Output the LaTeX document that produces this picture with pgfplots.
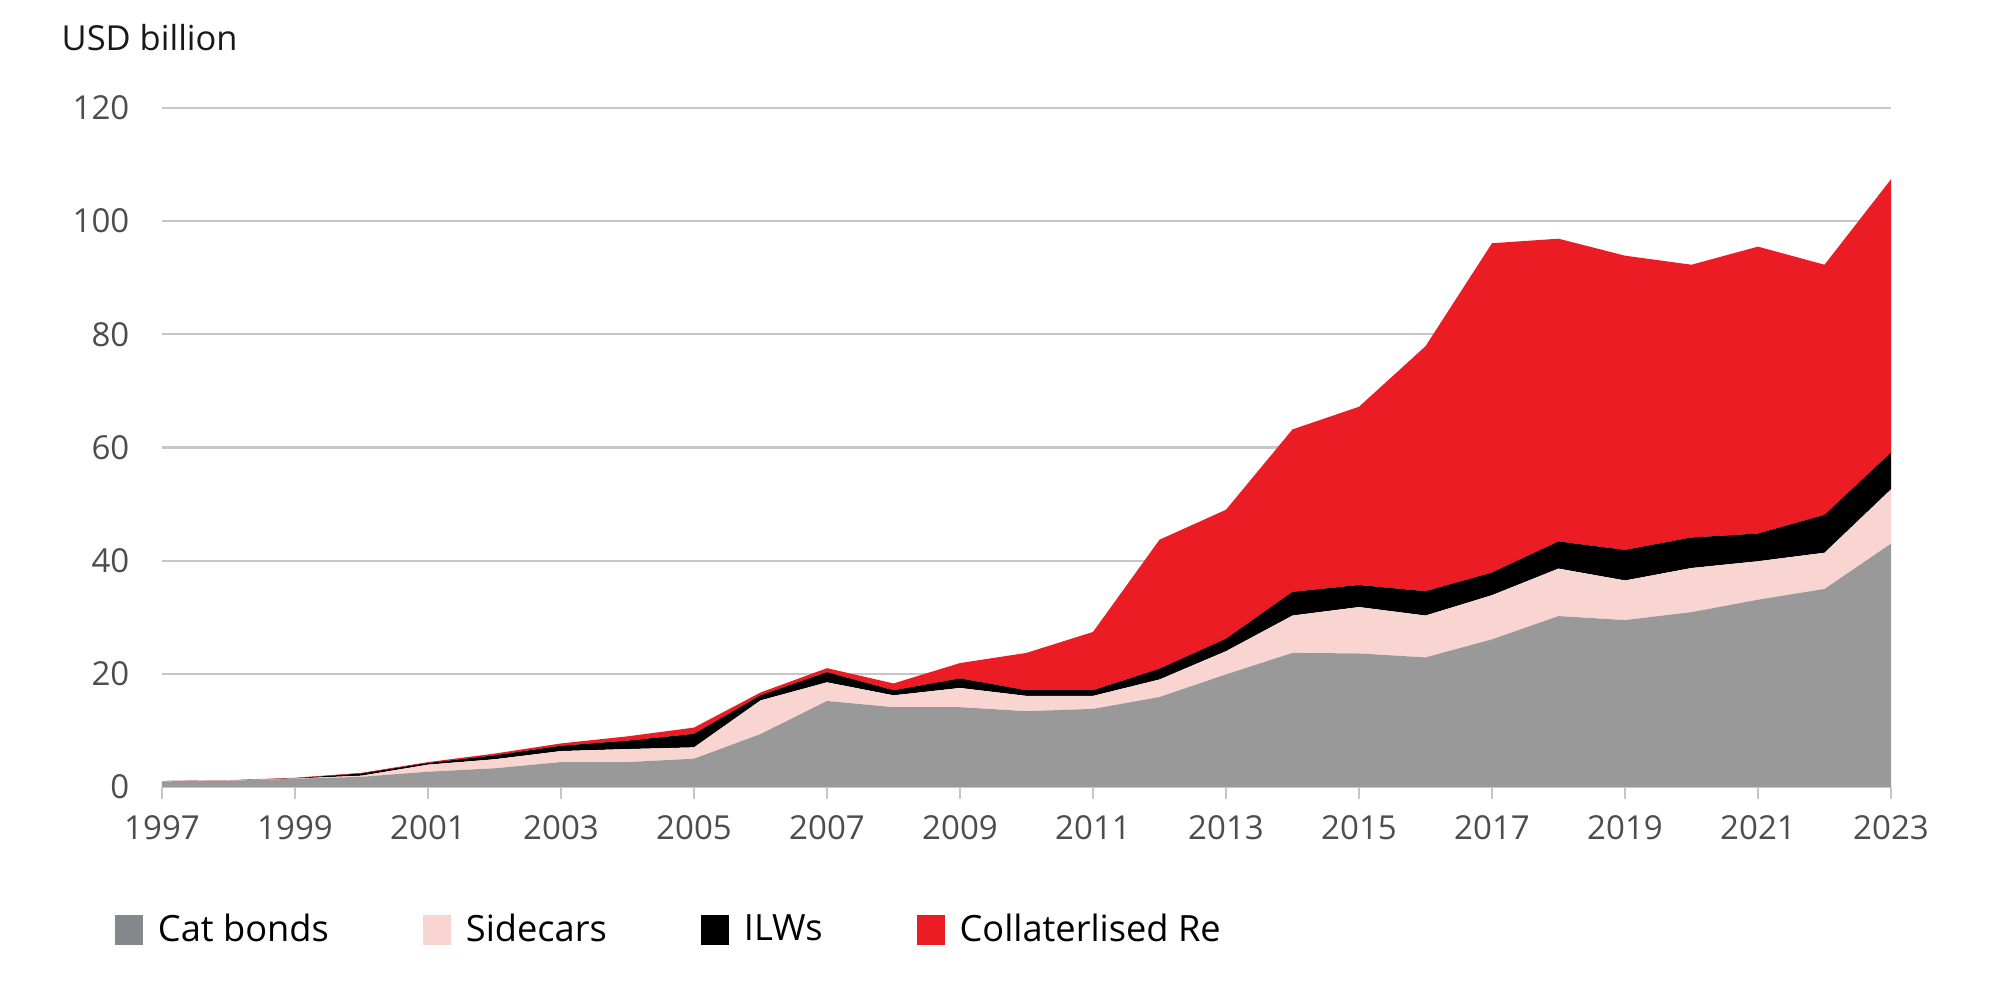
\documentclass[border=0pt]{standalone}
\usepackage{pgfplots}
\pgfplotsset{compat=1.18}
\usepackage{pgfplotstable}
\usepackage{fontspec}
\setmainfont{Open Sans}
\definecolor{catgray}{HTML}{999999}
\definecolor{catlegend}{HTML}{86878A}
\definecolor{sidepink}{HTML}{F9D5D2}
\definecolor{collred}{HTML}{EC1C24}
\definecolor{gridgray}{HTML}{C6C6C6}
\definecolor{labgray}{HTML}{4D4D4D}
\pgfplotstableread{
year cat side ilw coll
1997 1.0 0.05 0 0
1998 1.1 0.05 0 0.05
1999 1.45 0.05 0.05 0.08
2000 1.8 0.2 0.4 0.1
2001 2.7 1.25 0.3 0.15
2002 3.3 1.6 0.7 0.3
2003 4.4 1.95 0.95 0.4
2004 4.4 2.3 1.5 0.75
2005 5.0 2.0 2.4 1.1
2006 9.35 5.95 0.9 0.5
2007 15.2 3.3 1.8 0.7
2008 14.1 2.1 0.9 1.2
2009 14.1 3.4 1.7 2.7
2010 13.4 2.7 1.0 6.6
2011 13.8 2.3 1.0 10.3
2012 15.9 3.1 1.9 22.8
2013 19.9 4.1 2.2 22.8
2014 23.7 6.6 4.2 28.7
2015 23.6 8.2 3.9 31.5
2016 22.9 7.4 4.3 43.3
2017 26.1 7.8 4.0 58.2
2018 30.2 8.4 4.8 53.5
2019 29.5 7.0 5.4 52.0
2020 30.9 7.8 5.4 48.2
2021 33.1 6.8 4.9 50.7
2022 35.0 6.4 6.7 44.2
2023 43.0 9.6 6.5 48.3
}\data
\begin{document}
\begin{tikzpicture}
\path[use as bounding box] (-1.62cm,-1.98cm) rectangle (18.41cm,7.87cm);
\begin{axis}[
  scale only axis, width=17.29cm, height=6.79cm,
  xmin=1997, xmax=2023, ymin=0, ymax=120,
  enlargelimits=false,
  stack plots=y,
  axis x line*=bottom, axis y line*=left,
  x axis line style={draw=gridgray, line width=0.6pt},
  y axis line style={draw=none},
  xtick={1997,1999,...,2023},
  ytick={0,20,...,120},
  ymajorgrids,
  grid style={gridgray, line width=0.6pt},
  tick align=outside,
  major tick length=0.12cm,
  xtick style={draw=gridgray, line width=0.6pt},
  ytick style={draw=none},
  /pgf/number format/assume math mode=true,
  /pgf/number format/1000 sep={},
  xticklabel style={font=\fontsize{9.4}{11}\selectfont, text=labgray, inner sep=0pt, anchor=north, yshift=-0.16cm},
  yticklabel style={font=\fontsize{9.4}{11}\selectfont, text=labgray, inner sep=0pt, anchor=east, xshift=-0.20cm},
  legend columns=4,
  legend style={at={(-0.0272,-0.2106)}, anchor=west, draw=none, fill=none,
    inner sep=0pt, outer sep=0pt,
    font=\fontsize{10.3}{12}\selectfont,
    /tikz/every odd column/.append style={column sep=0.08cm},
    /tikz/every even column/.append style={column sep=0.87cm}},
  legend image code/.code={\fill[#1] (0cm,-0.15cm) rectangle (0.28cm,0.15cm);},
]
\addplot[fill=catgray, draw=none, legend image post style={fill=catlegend}] table[x=year, y=cat] {\data} \closedcycle;
\addplot[fill=sidepink, draw=none] table[x=year, y=side] {\data} \closedcycle;
\addplot[fill=black, draw=none] table[x=year, y=ilw] {\data} \closedcycle;
\addplot[fill=collred, draw=none] table[x=year, y=coll] {\data} \closedcycle;
\legend{Cat bonds, Sidecars, ILWs, Collaterlised Re}
\end{axis}
\node[anchor=base west, inner sep=0pt, font=\fontsize{9.8}{12}\selectfont, text=black!90] at (-1.01cm,7.36cm) {USD billion};
\end{tikzpicture}
\end{document}
